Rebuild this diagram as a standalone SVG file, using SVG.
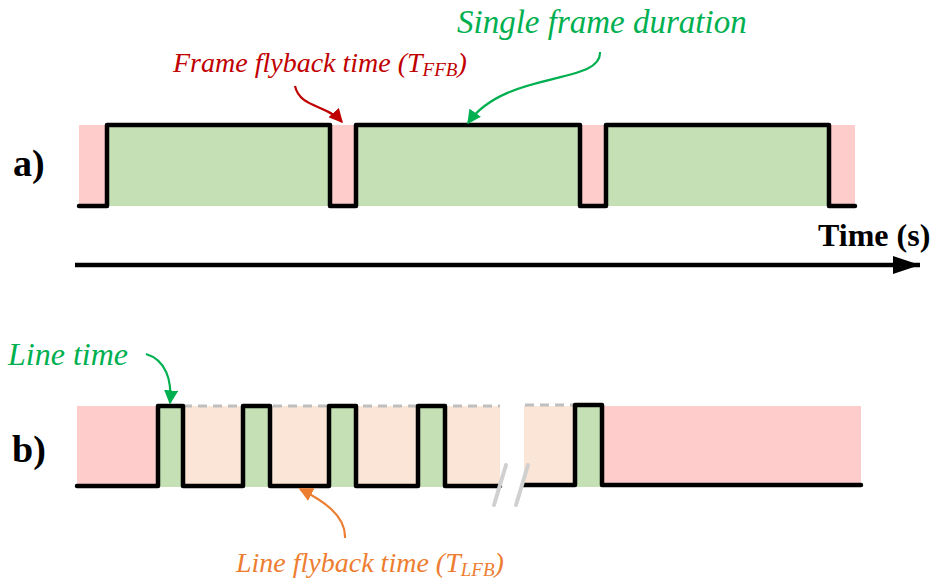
<svg xmlns="http://www.w3.org/2000/svg" width="932" height="581" viewBox="0 0 932 581">
<defs>
<style>
.pink{fill:#FFCCCC}
.green{fill:#C5E0B4}
.peach{fill:#FBE5D6}
.wave{fill:none;stroke:#000;stroke-width:4.5;stroke-linejoin:round;stroke-linecap:round}
.dash{fill:none;stroke:#BFBFBF;stroke-width:3;stroke-dasharray:9,6}
.brk{stroke:#D0D0D0;stroke-width:4;stroke-linecap:round}
.lbl{font-family:"Liberation Serif",serif;font-style:italic}
.bold{font-family:"Liberation Serif",serif;font-weight:bold;fill:#000}
</style>
<marker id="mr" viewBox="0 0 10 10" refX="9" refY="5" markerWidth="14" markerHeight="14" orient="auto" markerUnits="userSpaceOnUse"><path d="M0,0 L10,5 L0,10 z" fill="#C00000"/></marker>
<marker id="mg" viewBox="0 0 10 10" refX="9" refY="5" markerWidth="14" markerHeight="14" orient="auto" markerUnits="userSpaceOnUse"><path d="M0,0 L10,5 L0,10 z" fill="#00B050"/></marker>
<marker id="mo" viewBox="0 0 10 10" refX="9" refY="5" markerWidth="14" markerHeight="14" orient="auto" markerUnits="userSpaceOnUse"><path d="M0,0 L10,5 L0,10 z" fill="#ED7D31"/></marker>
<marker id="mk" viewBox="0 0 10 10" refX="10" refY="5" markerWidth="27" markerHeight="18" orient="auto" markerUnits="userSpaceOnUse" preserveAspectRatio="none"><path d="M0,0 L10,5 L0,10 z" fill="#000"/></marker>
</defs>

<g id="panel-a">
<rect class="pink" x="79" y="125" width="776" height="81"/>
<rect class="green" x="107" y="125" width="223" height="81"/>
<rect class="green" x="356" y="125" width="224" height="81"/>
<rect class="green" x="606" y="125" width="223" height="81"/>
<path class="wave" d="M79,206 H107 V125 H330 V206 H356 V125 H580 V206 H606 V125 H829 V206 H855"/>
<text class="bold" x="13" y="176" font-size="38">a)</text>
</g>

<g id="time-axis">
<line x1="75" y1="265" x2="920" y2="265" stroke="#000" stroke-width="4.5" marker-end="url(#mk)"/>
<text class="bold" x="818" y="246" font-size="32">Time (s)</text>
</g>

<g id="panel-b">
<rect class="pink" x="77" y="406" width="81" height="81"/>
<rect class="peach" x="158" y="406" width="342" height="81"/>
<rect class="peach" x="524" y="406" width="51" height="81"/>
<rect class="pink" x="602" y="406" width="259" height="81"/>
<rect class="green" x="158" y="406" width="25" height="81"/>
<rect class="green" x="243" y="406" width="27" height="81"/>
<rect class="green" x="329" y="406" width="27" height="81"/>
<rect class="green" x="418" y="406" width="27" height="81"/>
<rect class="green" x="575" y="406" width="27" height="81"/>
<path class="dash" d="M183,406 H500"/>
<path class="dash" d="M525,405 H575"/>
<path class="wave" d="M77,486 H158 V406 H183 V486 H243 V406 H270 V486 H329 V406 H356 V486 H418 V406 H445 V486 H500"/>
<path class="wave" d="M523,485 H575 V405 H602 V485 H861"/>
<line class="brk" x1="506" y1="465" x2="494" y2="505"/>
<line class="brk" x1="528" y1="465" x2="516" y2="505"/>
<text class="bold" x="12" y="462" font-size="38">b)</text>
</g>

<g id="connectors">
<path d="M295,86 C300,108 326,104 342,122" fill="none" stroke="#C00000" stroke-width="2.2" marker-end="url(#mr)"/>
<path d="M600,52 C602,85 505,70 468,123" fill="none" stroke="#00B050" stroke-width="2.2" marker-end="url(#mg)"/>
<path d="M146,354 C166,360 172,380 170,403" fill="none" stroke="#00B050" stroke-width="2.2" marker-end="url(#mg)"/>
<path d="M345,538 C346,515 322,500 300,489" fill="none" stroke="#ED7D31" stroke-width="2.2" marker-end="url(#mo)"/>
</g>

<g id="label-ffb">
<text class="lbl" x="173" y="72" font-size="28" fill="#C00000">Frame flyback time (T<tspan font-size="19" dy="4">FFB</tspan><tspan dy="-4">)</tspan></text>
</g>
<g id="label-frame">
<text class="lbl" x="457" y="33" font-size="33" fill="#00B050">Single frame duration</text>
</g>
<g id="label-line">
<text class="lbl" x="8" y="365" font-size="32" fill="#00B050">Line time</text>
</g>
<g id="label-lfb">
<text class="lbl" x="236" y="572" font-size="28" fill="#ED7D31">Line flyback time (T<tspan font-size="19" dy="4">LFB</tspan><tspan dy="-4">)</tspan></text>
</g>
</svg>
